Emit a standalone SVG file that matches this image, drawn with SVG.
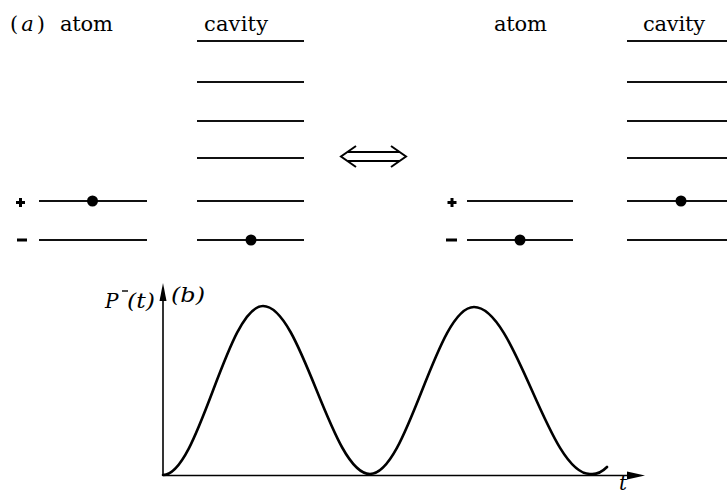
<svg xmlns="http://www.w3.org/2000/svg" width="727" height="495" viewBox="0 0 727 495">
<style>
.t{font-family:"DejaVu Serif",serif;font-size:21px;fill:#000}
.i{font-family:"DejaVu Serif",serif;font-style:italic;font-size:20px;fill:#000}
.lv{stroke:#111;stroke-width:2;fill:none}
.sg{stroke:#000;stroke-width:3;fill:none}
.dot{fill:#000}
.ax{stroke:#000;stroke-width:1.6;fill:none}
.cur{stroke:#000;stroke-width:2.6;fill:none;stroke-linecap:round}
</style>
<rect width="727" height="495" fill="#fff"/>
<g id="panel-a-left">
  <text class="t" x="10" y="31" font-size="23" textLength="35" lengthAdjust="spacing"><tspan>(</tspan><tspan font-style="italic">a</tspan><tspan>)</tspan></text>
  <g id="atom-left">
    <text class="t" x="60" y="31" textLength="53" lengthAdjust="spacing">atom</text>
    <path class="sg" d="M16,202.5 H25 M20.5,198 V207 M17,240 H27"/>
    <line class="lv" x1="39" y1="201" x2="147" y2="201"/>
    <line class="lv" x1="39" y1="240" x2="147" y2="240"/>
    <circle class="dot" cx="92.5" cy="201" r="5.5"/>
  </g>
  <g id="cavity-left">
    <text class="t" x="204" y="31" textLength="64" lengthAdjust="spacing">cavity</text>
    <line class="lv" x1="197" y1="41" x2="304" y2="41"/>
    <line class="lv" x1="197" y1="82" x2="304" y2="82"/>
    <line class="lv" x1="197" y1="121" x2="304" y2="121"/>
    <line class="lv" x1="197" y1="158" x2="304" y2="158"/>
    <line class="lv" x1="197" y1="201" x2="304" y2="201"/>
    <line class="lv" x1="197" y1="240" x2="304" y2="240"/>
    <circle class="dot" cx="251" cy="240" r="5.5"/>
  </g>
</g>
<g id="connectors">
  <path d="M356,146 L341,156.5 L356,167 M391,146 L406,156.5 L391,167 M348,152 H399 M348,161 H399" stroke="#000" stroke-width="2" fill="none" stroke-linejoin="miter"/>
</g>
<g id="panel-a-right">
  <g id="atom-right">
    <text class="t" x="494" y="31" textLength="53" lengthAdjust="spacing">atom</text>
    <path class="sg" d="M447.5,202.5 H456.5 M452,198 V207 M446,240 H457"/>
    <line class="lv" x1="467" y1="201" x2="573" y2="201"/>
    <line class="lv" x1="467" y1="240" x2="573" y2="240"/>
    <circle class="dot" cx="520" cy="240" r="5.5"/>
  </g>
  <g id="cavity-right">
    <text class="t" x="643" y="31" textLength="62" lengthAdjust="spacing">cavity</text>
    <line class="lv" x1="627" y1="41" x2="727" y2="41"/>
    <line class="lv" x1="627" y1="82" x2="727" y2="82"/>
    <line class="lv" x1="627" y1="121" x2="727" y2="121"/>
    <line class="lv" x1="627" y1="158" x2="727" y2="158"/>
    <line class="lv" x1="627" y1="201" x2="727" y2="201"/>
    <line class="lv" x1="627" y1="240" x2="727" y2="240"/>
    <circle class="dot" cx="681" cy="201" r="5.5"/>
  </g>
</g>
<g id="panel-b">
  <line class="ax" x1="163" y1="475.5" x2="163" y2="296"/>
  <polygon points="163,283 159.5,301 166.5,301" fill="#000"/>
  <line class="ax" x1="163" y1="475.5" x2="630" y2="475.5"/>
  <polygon points="645,475.5 627,471.5 627,479.5" fill="#000"/>
  <text class="i" x="105" y="308" font-size="22">P</text>
  <line x1="122" y1="291" x2="128" y2="291" stroke="#000" stroke-width="1.4"/>
  <text class="i" x="127" y="308" font-size="20" textLength="28" lengthAdjust="spacingAndGlyphs">(t)</text>
  <text class="i" x="171" y="302" font-size="20" textLength="34" lengthAdjust="spacingAndGlyphs">(b)</text>
  <text class="i" x="619" y="490" font-size="18">t</text>
  <path class="cur" d="M163,475 C199,475 227,306 263,306 C302,306 331,474 370,474 C408,474 436,307 474,307 C516,307 548,474 590,474 C597,475 603,471 607,467"/>
</g>
</svg>
